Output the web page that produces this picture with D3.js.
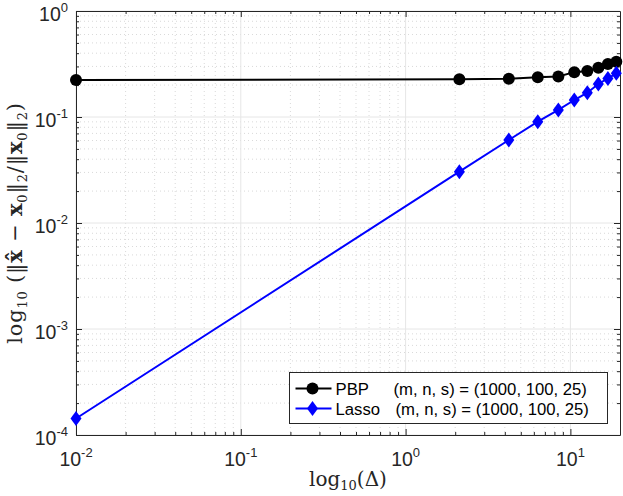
<!DOCTYPE html>
<html>
<head>
<meta charset="utf-8">
<script src="https://cdn.jsdelivr.net/npm/d3@7"></script>
<style>
  html, body { margin: 0; padding: 0; background: #fff; }
  svg { display: block; }
</style>
</head>
<body>
<div id="chart"></div>
<script>
// data
const delta = [0.01, 2.12, 4.23, 6.34, 8.45, 10.56, 12.67, 14.78, 16.89, 19.0];
const pbpErr = [0.223, 0.227, 0.230, 0.237, 0.241, 0.265, 0.272, 0.292, 0.316, 0.332];
const lassoErr = [0.000143, 0.0305, 0.0607, 0.0903, 0.1165, 0.1446, 0.1695, 0.2048, 0.231, 0.258];
const xTickExps = [-2, -1, 0, 1];
const yTickExps = [-4, -3, -2, -1, 0];
const legendLabels = ["PBP", "Lasso"];
const legendParams = ["(m, n, s) = (1000, 100, 25)", "(m, n, s) = (1000, 100, 25)"];

// dimensions
const W = 623, H = 496;
const margin = { top: 11, right: 3, bottom: 61, left: 76 };
const width = W - margin.left - margin.right;
const height = H - margin.top - margin.bottom;

const x = d3.scaleLog().domain([0.01, 20]).range([0, width]);
const y = d3.scaleLog().domain([1e-4, 1]).range([height, 0]);

const svg = d3.select("#chart")
  .append("svg")
    .attr("width", W)
    .attr("height", H);

const g = svg.append("g")
    .attr("transform", `translate(${margin.left},${margin.top})`);

// minor tick values for log axes
function minors(lo, hi) {
  const out = [];
  for (let e = Math.floor(Math.log10(lo)); e <= Math.ceil(Math.log10(hi)); e++) {
    for (let k = 2; k <= 9; k++) {
      const v = k * Math.pow(10, e);
      if (v > lo && v < hi) out.push(v);
    }
  }
  return out;
}
const xMajor = xTickExps.map(e => Math.pow(10, e));
const yMajor = yTickExps.map(e => Math.pow(10, e));
const xMinor = minors(0.01, 20);
const yMinor = minors(1e-4, 1);

// gridlines
g.selectAll(".xMinorGrid")
  .data(xMinor)
  .join("line")
  .attr("x1", d => x(d)).attr("x2", d => x(d))
  .attr("y1", 0).attr("y2", height)
  .attr("stroke", "#cfcfcf")
  .attr("stroke-width", 0.8)
  .attr("stroke-dasharray", "1,3");

g.selectAll(".yMinorGrid")
  .data(yMinor)
  .join("line")
  .attr("x1", 0).attr("x2", width)
  .attr("y1", d => y(d)).attr("y2", d => y(d))
  .attr("stroke", "#cfcfcf")
  .attr("stroke-width", 0.8)
  .attr("stroke-dasharray", "1,3");

g.selectAll(".xGrid")
  .data(xMajor)
  .join("line")
  .attr("x1", d => x(d)).attr("x2", d => x(d))
  .attr("y1", 0).attr("y2", height)
  .attr("stroke", "#e6e6e6")
  .attr("stroke-width", 1);

g.selectAll(".yGrid")
  .data(yMajor)
  .join("line")
  .attr("x1", 0).attr("x2", width)
  .attr("y1", d => y(d)).attr("y2", d => y(d))
  .attr("stroke", "#e6e6e6")
  .attr("stroke-width", 1);

// axes (ticks pointing inward, on all four sides)
function styleAxis(sel) {
  sel.selectAll("path").attr("stroke", "#262626");
  sel.selectAll("line").attr("stroke", "#262626");
}
const axes = [
  [d3.axisBottom(x), `translate(0,${height})`],
  [d3.axisTop(x), null],
  [d3.axisLeft(y), null],
  [d3.axisRight(y), `translate(${width},0)`]
];
axes.forEach(([ax, tr], i) => {
  const isX = i < 2;
  const gMin = g.append("g")
    .call(ax.tickValues(isX ? xMinor : yMinor).tickSize(-3).tickFormat("").tickSizeOuter(0));
  if (tr) gMin.attr("transform", tr);
  gMin.select(".domain").remove();
  styleAxis(gMin);
  const gMaj = g.append("g")
    .call(ax.tickValues(isX ? xMajor : yMajor).tickSize(-6).tickFormat("").tickSizeOuter(0));
  if (tr) gMaj.attr("transform", tr);
  styleAxis(gMaj);
});

// tick labels with superscripts
const tickFont = "'Liberation Sans', Arial, Helvetica, sans-serif";
const xl = g.selectAll(".xLabel")
  .data(xTickExps)
  .join("text")
  .attr("x", d => x(Math.pow(10, d)))
  .attr("y", height + 31)
  .attr("text-anchor", "middle")
  .attr("font-family", tickFont)
  .attr("font-size", 19.5)
  .attr("fill", "#262626");
xl.append("tspan").text("10");
xl.append("tspan").attr("dy", -9).attr("font-size", 13).text(d => d);

const yl = g.selectAll(".yLabel")
  .data(yTickExps)
  .join("text")
  .attr("x", -8)
  .attr("y", d => y(Math.pow(10, d)) + 10)
  .attr("text-anchor", "end")
  .attr("font-family", tickFont)
  .attr("font-size", 19.5)
  .attr("fill", "#262626");
yl.append("tspan").text("10");
yl.append("tspan").attr("dy", -9).attr("font-size", 13).text(d => d);

// axis titles (LaTeX-like serif)
const serif = "'DejaVu Serif', 'Liberation Serif', serif";
const xt = svg.append("text")
  .attr("x", margin.left + width / 2)
  .attr("y", 486)
  .attr("text-anchor", "middle")
  .attr("font-family", serif)
  .attr("font-size", 20)
  .attr("fill", "#262626");
xt.append("tspan").text("log");
xt.append("tspan").attr("dy", 4).attr("font-size", 13).text("10");
xt.append("tspan").attr("dy", -4).text("(Δ)");

const yt = svg.append("text")
  .attr("transform", `translate(22,${margin.top + height / 2}) rotate(-90)`)
  .attr("text-anchor", "middle")
  .attr("font-family", serif)
  .attr("font-size", 21)
  .attr("letter-spacing", 0.8)
  .attr("fill", "#262626");
yt.append("tspan").text("log");
yt.append("tspan").attr("dy", 5).attr("font-size", 13).text("10");
yt.append("tspan").attr("dy", -5).text(" (‖");
yt.append("tspan").attr("font-weight", "bold").text("x\u0302");
yt.append("tspan").text(" − ");
yt.append("tspan").attr("font-weight", "bold").text("x");
yt.append("tspan").attr("dy", 5).attr("font-size", 13).text("0");
yt.append("tspan").attr("dy", -5).text("‖");
yt.append("tspan").attr("dy", 5).attr("font-size", 13).text("2");
yt.append("tspan").attr("dy", -5).text("/‖");
yt.append("tspan").attr("font-weight", "bold").text("x");
yt.append("tspan").attr("dy", 5).attr("font-size", 13).text("0");
yt.append("tspan").attr("dy", -5).text("‖");
yt.append("tspan").attr("dy", 5).attr("font-size", 13).text("2");
yt.append("tspan").attr("dy", -5).text(")");

// lines
const pbp = delta.map((d, i) => ({ x: d, y: pbpErr[i] }));
const lasso = delta.map((d, i) => ({ x: d, y: lassoErr[i] }));

const line = d3.line()
  .x(d => x(d.x))
  .y(d => y(d.y));

g.append("path")
  .datum(pbp)
  .attr("fill", "none")
  .attr("stroke", "#000")
  .attr("stroke-width", 2)
  .attr("d", line);

g.selectAll(".pbpDot")
  .data(pbp)
  .join("circle")
  .attr("cx", d => x(d.x))
  .attr("cy", d => y(d.y))
  .attr("r", 6)
  .attr("fill", "#000");

g.append("path")
  .datum(lasso)
  .attr("fill", "none")
  .attr("stroke", "#0000ff")
  .attr("stroke-width", 2)
  .attr("d", line);

const diamond = "M0,-7.5L5.5,0L0,7.5L-5.5,0Z";
g.selectAll(".lassoDot")
  .data(lasso)
  .join("path")
  .attr("transform", d => `translate(${x(d.x)},${y(d.y)})`)
  .attr("d", diamond)
  .attr("fill", "#0000ff");

// legend
const lg = svg.append("g").attr("transform", "translate(289.5,372.5)");
lg.append("rect")
  .attr("width", 318)
  .attr("height", 51)
  .attr("fill", "#fff")
  .attr("stroke", "#262626")
  .attr("stroke-width", 1);

const rows = lg.selectAll(".row")
  .data(legendLabels)
  .join("g")
  .attr("transform", (d, i) => `translate(0,${16 + i * 20})`);

rows.append("line")
  .attr("x1", 6).attr("x2", 42)
  .attr("stroke", (d, i) => i === 0 ? "#000" : "#0000ff")
  .attr("stroke-width", 2);

rows.each(function (d, i) {
  const r = d3.select(this);
  if (i === 0) {
    r.append("circle").attr("cx", 23).attr("r", 6).attr("fill", "#000");
  } else {
    r.append("path").attr("transform", "translate(23,0)").attr("d", diamond).attr("fill", "#0000ff");
  }
});

rows.append("text")
  .attr("x", 46)
  .attr("y", 6)
  .attr("font-family", tickFont)
  .attr("font-size", 16.7)
  .attr("fill", "#000")
  .text(d => d);

rows.append("text")
  .attr("x", (d, i) => i === 0 ? 104 : 106)
  .attr("y", 6)
  .attr("font-family", tickFont)
  .attr("font-size", 16.7)
  .attr("fill", "#000")
  .text((d, i) => legendParams[i]);
</script>
</body>
</html>
